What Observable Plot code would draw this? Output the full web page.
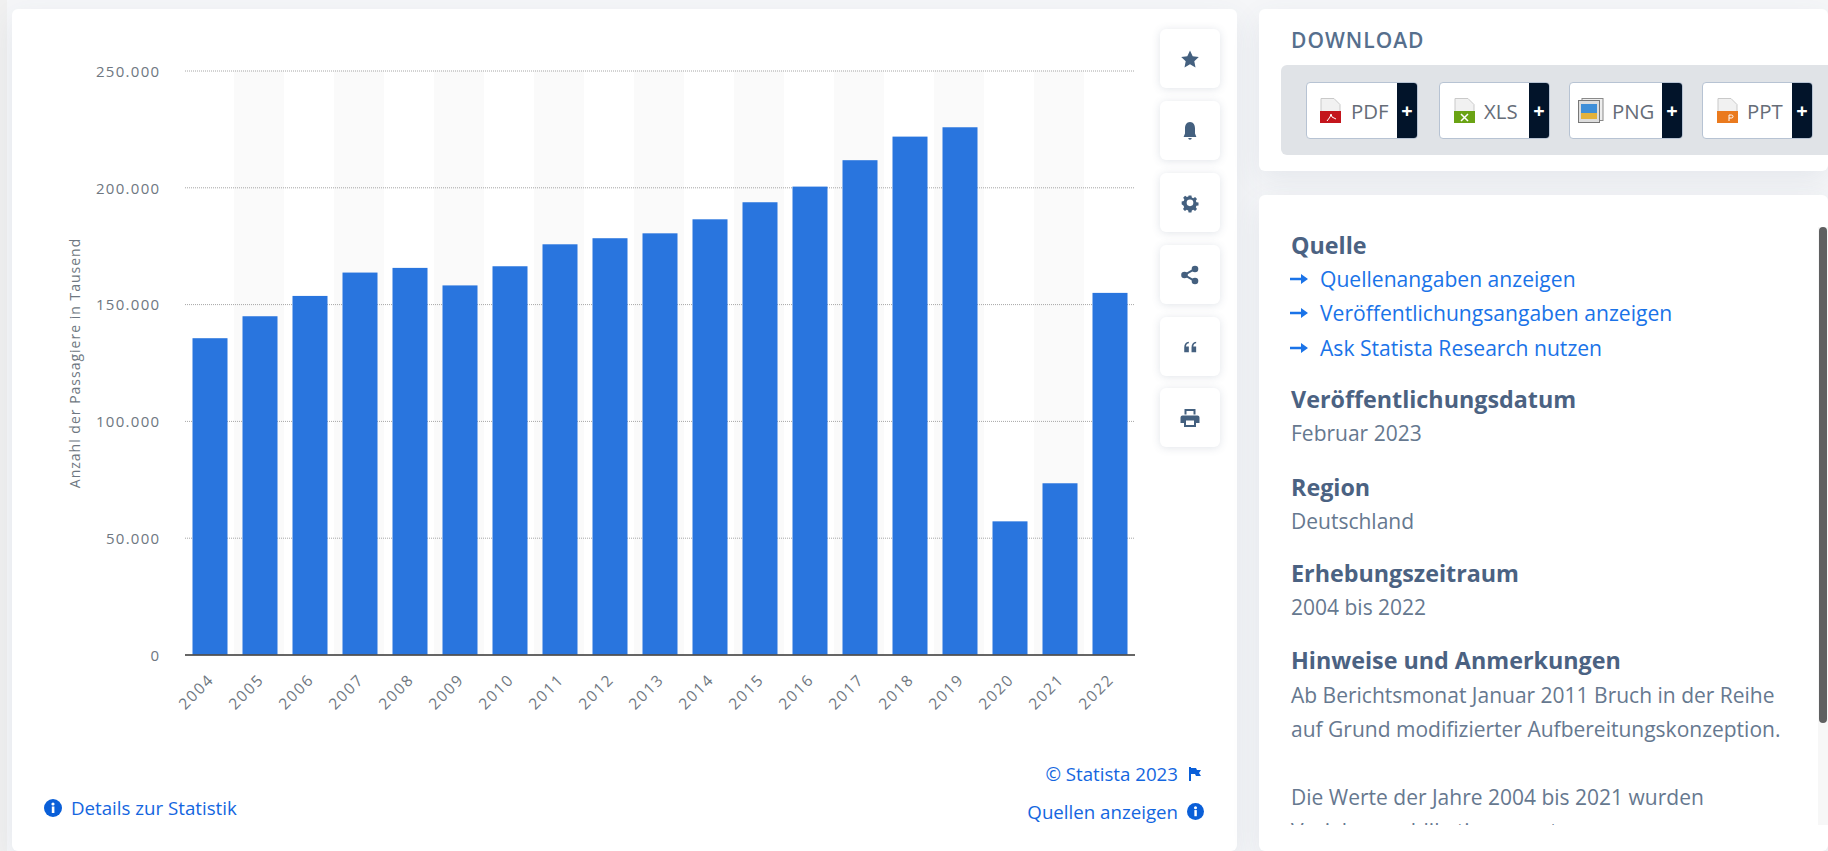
<!DOCTYPE html>
<html lang="de">
<head>
<meta charset="utf-8">
<title>Passagiere</title>
<script src="https://cdn.jsdelivr.net/npm/d3@7"></script>
<script src="https://cdn.jsdelivr.net/npm/@observablehq/plot@0.6"></script>
<style>
  html, body { margin: 0; padding: 0; width: 1828px; height: 851px; overflow: hidden; background: #f5f6f8; font-family: "Open Sans", sans-serif; }
  .edge { position: absolute; left: 0; top: 0; width: 7px; height: 851px; background: #f0f0f0; }
  .card { position: absolute; background: #fff; border-radius: 6px; box-shadow: 0 10px 30px rgba(70,90,120,.09); }
  #chart { position: absolute; left: 0; top: 0; }
  #chart g[aria-label="y-axis label"] { letter-spacing: 1px; font-size: 14px; }
  #chart g[aria-label="x-axis tick label"] { letter-spacing: 1.7px; font-size: 15.5px; }
  #chart g[aria-label="y-axis tick label"] { letter-spacing: 1.3px; font-size: 15px; }
  .tool { position: absolute; left: 1160px; width: 60px; height: 59px; background: #fff; border-radius: 6px; box-shadow: 0 1px 8px rgba(70,90,120,.16); display: flex; align-items: center; justify-content: center; }
  .tool svg { width: 20px; height: 20px; fill: #44607f; }
  .t { position: absolute; white-space: nowrap; line-height: 1; transform: translateY(-50%); }
  .link { color: #1a73e8; font-size: 21.1px; }
  .small { color: #1466e0; font-size: 18.7px; }
  .h { color: #4b6282; font-size: 23.3px; font-weight: 700; left: 1291px; }
  .p { color: #66788f; font-size: 21px; left: 1291px; }
  .grey { position: absolute; left: 1281px; top: 65px; width: 547px; height: 90px; background: #e0e3e7; border-radius: 6px 0 0 6px; }
  .btn { position: absolute; top: 82px; height: 57px; background: #fff; border: 1px solid #b7c3d3; border-radius: 4px; box-sizing: border-box; overflow: hidden; }
  .btn i { position: absolute; right: 0; top: 0; bottom: 0; width: 20px; background: #02142a; color: #fff; font: 700 20px/55px "Open Sans", sans-serif; text-align: center; }
  .btn b { position: absolute; top: 50%; transform: translateY(-50%); font-weight: 400; font-size: 20.4px; color: #666d78; }
  .btn svg { position: absolute; top: 15px; }
  .clip { position: absolute; left: 1259px; top: 195px; width: 569px; height: 630px; overflow: hidden; }
  .track { position: absolute; left: 1818px; top: 227px; width: 10px; height: 598px; background: #f7f7f7; }
  .thumb { position: absolute; left: 1819px; top: 227px; width: 8px; height: 496px; background: #5f6061; border-radius: 4px; }
  .ic { position: absolute; }
</style>
</head>
<body>
<div class="edge"></div>
<div class="card" style="left:12px;top:9px;width:1225px;height:842px"></div>
<div class="card" style="left:1259px;top:9px;width:569px;height:162px"></div>
<div class="card" style="left:1259px;top:195px;width:569px;height:656px"></div>
<div id="chart"></div>

<div class="tool" style="top:29px"><svg viewBox="0 0 20 20"><polygon points="10,1.5 12.7,7.2 18.8,8 14.3,12.2 15.5,18.4 10,15.3 4.5,18.4 5.7,12.2 1.2,8 7.3,7.2"/></svg></div>
<div class="tool" style="top:101px"><svg viewBox="0 0 20 20"><path d="M10 1c3.600 0 5 3 5 6.400v5.200l1.400 3.400H3.600L5 12.600V7.400C5 4 6.400 1 10 1zM8.300 17h3.400c0 1-.7 1.700-1.700 1.700S8.300 18 8.300 17z"/></svg></div>
<div class="tool" style="top:173px"><svg viewBox="-2 -2 24 24"><path fill-rule="evenodd" d="M8.300 1h3.400l.5 2.500 1.700.7 2.200-1.400 2.300 2.400-1.400 2.100.7 1.700 2.500.5v3.400l-2.500.5-.7 1.700 1.400 2.200-2.300 2.300-2.200-1.400-1.700.7-.5 2.500H8.300l-.5-2.500-1.700-.7-2.200 1.400-2.300-2.300 1.400-2.200-.7-1.700L0 11.500V8.100l2.500-.5.700-1.700-1.400-2.100 2.300-2.400 2.200 1.400 1.700-.7zM10 5.800a4 4 0 1 0 0 8 4 4 0 0 0 0-8z"/></svg></div>
<div class="tool" style="top:245px"><svg viewBox="0 0 20 20"><circle cx="15" cy="4" r="3.300"/><circle cx="15" cy="16" r="3.300"/><circle cx="4.500" cy="10" r="3.300"/><path d="M4 9l10.500-6 1 1.800L5 10.800zM5 9.200l10.500 6-1 1.800L4 11z"/></svg></div>
<div class="tool" style="top:317px"><svg viewBox="-3 -3 26 26"><path d="M2.500 10.500C2.500 6.500 4.500 3.500 8.500 3.200v1.800c-2.300.3-3.600 2-3.700 4.200h3.700v7.500h-6zM12 10.500c0-4 2-7 6-7.300v1.800c-2.300.3-3.600 2-3.700 4.200H18v7.500h-6z"/></svg></div>
<div class="tool" style="top:388px"><svg viewBox="0 0 20 20"><path fill-rule="evenodd" d="M4.500 1h11v5.500h-2V3h-7v3.500h-2zM2.500 7.500h15a2 2 0 0 1 2 2V15h-3.500v4H4v-4H.5V9.500a2 2 0 0 1 2-2zM6 12.500V17h8v-4.500z"/></svg></div>

<span class="t small" style="left:71px;top:808px">Details zur Statistik</span>
<svg class="ic" style="left:44px;top:799px" width="18" height="18" viewBox="0 0 18 18"><circle cx="9" cy="9" r="9" fill="#0a5fd8"/><rect x="7.800" y="7.500" width="2.600" height="6.500" fill="#fff"/><circle cx="9" cy="5" r="1.600" fill="#fff"/></svg>
<span class="t small" style="right:650px;top:774px">© Statista 2023</span>
<svg class="ic" style="left:1189px;top:767px" width="12" height="14" viewBox="0 0 12 14"><path d="M0 0h2v14H0zM2 1h5l1 2h4l-2 3 2 3H7L6 7H2z" fill="#0a5fd8"/></svg>
<span class="t small" style="right:650px;top:811.500px">Quellen anzeigen</span>
<svg class="ic" style="left:1187px;top:803px" width="17" height="17" viewBox="0 0 18 18"><circle cx="9" cy="9" r="9" fill="#0a5fd8"/><rect x="7.800" y="7.500" width="2.600" height="6.500" fill="#fff"/><circle cx="9" cy="5" r="1.600" fill="#fff"/></svg>

<span class="t" style="left:1291px;top:40px;font-size:21px;font-weight:600;letter-spacing:1px;color:#566f8d">DOWNLOAD</span>
<div class="grey"></div>
<div class="btn" style="left:1306px;width:112px"><svg style="left:13px" width="21" height="25" viewBox="0 0 21 25"><path d="M1 .5h13l6 6v18H1z" fill="#f1f1f1" stroke="#c9c9c9"/><rect x="0" y="13" width="21" height="12" fill="#c4151c"/><path d="M7 23l3-4 1-3 1 3 4 2" fill="none" stroke="#fff"/></svg><b style="left:44px">PDF</b><i>+</i></div>
<div class="btn" style="left:1439px;width:111px"><svg style="left:14px" width="21" height="25" viewBox="0 0 21 25"><path d="M1 .5h13l6 6v18H1z" fill="#f1f1f1" stroke="#c9c9c9"/><rect x="0" y="13" width="21" height="12" fill="#6aa314"/><path d="M7 16l7 7M14 16l-7 7" fill="none" stroke="#fff" stroke-width="1.500"/></svg><b style="left:44px">XLS</b><i>+</i></div>
<div class="btn" style="left:1569px;width:114px"><svg style="left:8px" width="26" height="25" viewBox="0 0 26 25"><rect x="4" y="0.500" width="21" height="22" fill="#eee" stroke="#8a8a8a"/><rect x="0.500" y="2.500" width="21" height="22" fill="#ddd" stroke="#777"/><rect x="3" y="6" width="16" height="9" fill="#3f8fd8"/><rect x="3" y="15" width="16" height="6" fill="#e3b23c"/></svg><b style="left:42px">PNG</b><i>+</i></div>
<div class="btn" style="left:1702px;width:111px"><svg style="left:14px" width="21" height="25" viewBox="0 0 21 25"><path d="M1 .5h13l6 6v18H1z" fill="#f1f1f1" stroke="#c9c9c9"/><rect x="0" y="13" width="21" height="12" fill="#ea7a1e"/><path d="M12 23v-6h2.500a1.500 1.500 0 0 1 0 3H12" fill="none" stroke="#fff"/></svg><b style="left:44px">PPT</b><i>+</i></div>

<div class="track"></div>
<div class="thumb"></div>
<div class="clip" id="notes"></div>

<script>
// Passagierzahlen je Jahr, in Tausend
const years = ["2004","2005","2006","2007","2008","2009","2010","2011","2012","2013","2014","2015","2016","2017","2018","2019","2020","2021","2022"];
const passengers = [135400,144800,153500,163500,165500,158000,166200,175600,178200,180300,186300,193600,200300,211600,221700,225700,57000,73300,154800];
const yTicks = [0,50000,100000,150000,200000,250000];
const stripeYears = ["2005","2007","2009","2011","2013","2015","2017","2019","2021"];
const yTitle = "Anzahl der Passagiere in Tausend";

// Seitenleiste: Überschriften, Absätze und Links
const headings = [["Quelle",245.5],["Veröffentlichungsdatum",400],["Region",488],["Erhebungszeitraum",574],["Hinweise und Anmerkungen",661]];
const paragraphs = [["Februar 2023",433],["Deutschland",520.5],["2004 bis 2022",607],["Ab Berichtsmonat Januar 2011 Bruch in der Reihe",694.5],["auf Grund modifizierter Aufbereitungskonzeption.",729],["Die Werte der Jahre 2004 bis 2021 wurden",796.5],["Vorjahrespublikationen entnommen.",831]];
const links = [["Quellenangaben anzeigen",279],["Veröffentlichungsangaben anzeigen",313],["Ask Statista Research nutzen",347.5]];

const rows = years.map((year, i) => ({year, value: passengers[i]}));
const germanNumber = d3.formatLocale({decimal: ",", thousands: ".", grouping: [3], currency: ["", "€"]}).format(",");

const chart = Plot.plot({
  width: 1240,
  height: 720,
  marginLeft: 185,
  marginRight: 105,
  marginTop: 70.5,
  marginBottom: 65.5,
  style: {background: "transparent", fontFamily: "'Open Sans', sans-serif", fontSize: "14px", color: "#6e7781", overflow: "visible"},
  x: {domain: years, paddingInner: 0.3, paddingOuter: 0.15, round: false},
  y: {domain: [0, 250000]},
  marks: [
    Plot.barY(stripeYears, {x: d => d, y: () => 250000, fill: "#fafafa", insetLeft: -8.5, insetRight: -6.5}),
    Plot.ruleY(yTicks.slice(1), {stroke: "#a6a6a6", strokeWidth: 1, strokeDasharray: "1 1"}),
    Plot.barY(rows, {x: "year", y: "value", fill: "#2975de"}),
    Plot.ruleY([0], {stroke: "#333", strokeWidth: 1.5}),
    Plot.axisY({ticks: yTicks, tickFormat: germanNumber, tickSize: 0, tickPadding: 25, label: yTitle, labelAnchor: "center", labelArrow: "none", labelOffset: 115, dy: 1}),
    Plot.axisX({tickSize: 0, tickPadding: 22, tickRotate: -45, label: null, dx: 1})
  ]
});
document.getElementById("chart").append(chart);

// Die Seitenleiste liegt in einem beschnittenen Bereich, deshalb der Versatz zur Kartenposition
const notes = document.getElementById("notes");
const place = (cls, text, left, y) => {
  const el = document.createElement("span");
  el.className = "t " + cls;
  el.textContent = text;
  el.style.left = (left - 1259) + "px";
  el.style.top = (y - 195) + "px";
  notes.append(el);
};
headings.forEach(([text, y]) => place("h", text, 1291, y));
paragraphs.forEach(([text, y]) => place("p", text, 1291, y));
links.forEach(([text, y]) => {
  place("link", text, 1320, y);
  const arrow = document.createElementNS("http://www.w3.org/2000/svg", "svg");
  arrow.setAttribute("class", "ic");
  arrow.setAttribute("width", 18);
  arrow.setAttribute("height", 10);
  arrow.setAttribute("viewBox", "0 0 18 10");
  arrow.style.left = (1290 - 1259) + "px";
  arrow.style.top = (y - 195 - 5) + "px";
  arrow.innerHTML = '<path d="M0 3.800h11V0l7 5-7 5V6.200H0z" fill="#1a73e8"/>';
  notes.append(arrow);
});
</script>
</body>
</html>
